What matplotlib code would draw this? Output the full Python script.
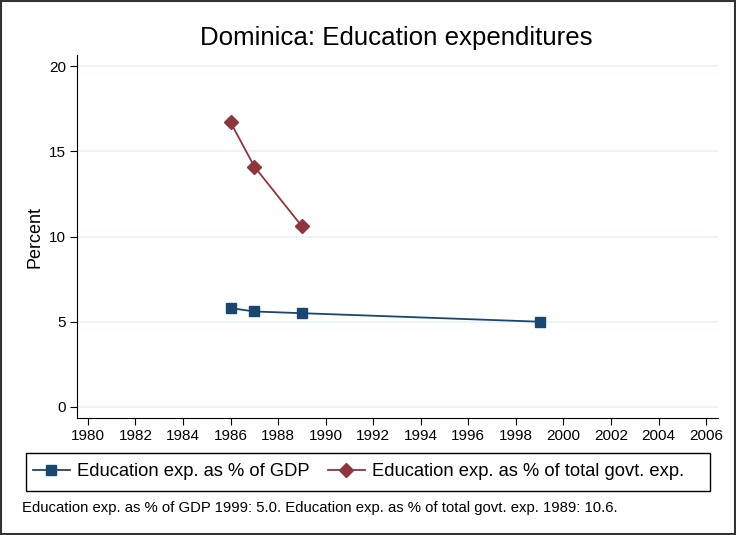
import matplotlib.pyplot as plt
from matplotlib.patches import Rectangle

# Datos
years_gdp = [1986, 1987, 1989, 1999]
edu_gdp = [5.8, 5.6, 5.5, 5.0]
years_gov = [1986, 1987, 1989]
edu_gov = [16.7, 14.1, 10.6]
x_ticks = list(range(1980, 2007, 2))
y_ticks = [0, 5, 10, 15, 20]

blue = '#1a476f'
red = '#90353b'

plt.rcParams['font.family'] = ['Liberation Sans', 'DejaVu Sans']

fig = plt.figure(figsize=(7.36, 5.35), dpi=100)
ax = fig.add_axes([77/736, 1-418/535, (718-77)/736, (418-55)/535])

# Rejilla horizontal
for y in y_ticks:
    ax.axhline(y, color='#eaf2f3', lw=1.2, zorder=0)

ax.plot(years_gdp, edu_gdp, color=blue, marker='s', markersize=7, lw=1.3,
        label='Education exp. as % of GDP')
ax.plot(years_gov, edu_gov, color=red, marker='D', markersize=7, lw=1.3,
        label='Education exp. as % of total govt. exp.')

ax.set_xlim(1979.54, 2006.5)
ax.set_ylim(-0.65, 20.65)
ax.set_xticks(x_ticks)
ax.set_yticks(y_ticks)
ax.tick_params(axis='both', direction='out', length=5, width=0.8, labelsize=11, pad=3)
ax.spines['top'].set_visible(False)
ax.spines['right'].set_visible(False)
ax.set_ylabel('Percent', fontsize=13, labelpad=4)

fig.text(396/736, 1-38/535, 'Dominica: Education expenditures', ha='center', va='center', fontsize=18.6)

# Leyenda sin marco + caja dibujada aparte
leg = fig.legend(loc='center left', bbox_to_anchor=(33/736, 1-472/535), ncol=2,
                 fontsize=13.2, frameon=False, borderaxespad=0, borderpad=0,
                 handlelength=2.0, handletextpad=0.4, columnspacing=1.0)
fig.patches.append(Rectangle((26/736, 1-491/535), (710-26)/736, 38/535,
                             transform=fig.transFigure, fill=False,
                             edgecolor='black', lw=1))

fig.text(22/736, 1-508/535,
         'Education exp. as % of GDP 1999: 5.0. Education exp. as % of total govt. exp. 1989: 10.6.',
         ha='left', va='center', fontsize=10.7)

# Marco exterior
fig.patches.append(Rectangle((0.001, 0.001), 0.998, 0.998, transform=fig.transFigure,
                             fill=False, edgecolor='#333333', lw=1.5))

fig.savefig('out.png', dpi=100)
